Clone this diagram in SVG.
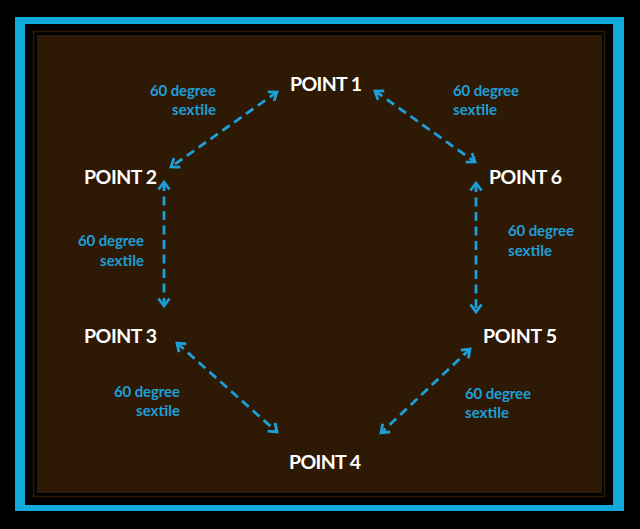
<svg xmlns="http://www.w3.org/2000/svg" width="640" height="529" viewBox="0 0 640 529">
<defs>
<style>
.pt{font-family:"Lato","Liberation Sans",sans-serif;font-weight:bold;font-size:19.5px;fill:#ffffff;text-anchor:middle}
.lb{font-family:"Lato","Liberation Sans",sans-serif;font-weight:bold;font-size:15px;fill:#1d9fd8}
.r{text-anchor:end}
.c{fill:none;stroke:#1d9fd8;stroke-width:2.8;stroke-dasharray:9 5.5}
</style>
<marker id="ah" viewBox="0 0 14 14" refX="11" refY="7" markerWidth="14" markerHeight="14" markerUnits="userSpaceOnUse" orient="auto-start-reverse">
<path d="M3.5,1.5 L11,7 L3.5,12.5" fill="none" stroke="#1d9fd8" stroke-width="2.8"/>
</marker>
</defs>
<rect x="0" y="0" width="640" height="529" fill="#000"/>
<rect x="15" y="17" width="609" height="494" fill="#12a9dc"/>
<rect x="25" y="24" width="588" height="481" fill="#000"/>
<rect x="33.5" y="31.5" width="571" height="465" fill="none" stroke="#2e1a08" stroke-width="1.5"/>
<rect x="37" y="35" width="565" height="458" fill="#2e1904"/>
<g id="connectors">
<line class="c" x1="277" y1="92" x2="171" y2="167" marker-start="url(#ah)" marker-end="url(#ah)"/>
<line class="c" x1="375" y1="91" x2="475" y2="162" marker-start="url(#ah)" marker-end="url(#ah)"/>
<line class="c" x1="164" y1="182" x2="164" y2="306" marker-start="url(#ah)" marker-end="url(#ah)"/>
<line class="c" x1="476" y1="183" x2="476" y2="312" marker-start="url(#ah)" marker-end="url(#ah)"/>
<line class="c" x1="177" y1="343" x2="277" y2="432" marker-start="url(#ah)" marker-end="url(#ah)"/>
<line class="c" x1="470" y1="349" x2="381" y2="433" marker-start="url(#ah)" marker-end="url(#ah)"/>
</g>
<g id="point1"><text class="pt" x="326" y="91" textLength="72">POINT 1</text></g>
<g id="point2"><text class="pt" x="120.5" y="184" textLength="73">POINT 2</text></g>
<g id="point3"><text class="pt" x="120.5" y="343" textLength="73">POINT 3</text></g>
<g id="point4"><text class="pt" x="325" y="469" textLength="72">POINT 4</text></g>
<g id="point5"><text class="pt" x="520" y="343" textLength="74">POINT 5</text></g>
<g id="point6"><text class="pt" x="525.5" y="184" textLength="73">POINT 6</text></g>
<g id="label12"><text class="lb r" x="216" y="96" textLength="66">60 degree</text><text class="lb r" x="216" y="115" textLength="44">sextile</text></g>
<g id="label16"><text class="lb" x="453" y="96" textLength="66">60 degree</text><text class="lb" x="453" y="115" textLength="44">sextile</text></g>
<g id="label23"><text class="lb r" x="144" y="246" textLength="66">60 degree</text><text class="lb r" x="144" y="266" textLength="44">sextile</text></g>
<g id="label65"><text class="lb" x="508" y="236" textLength="66">60 degree</text><text class="lb" x="508" y="256" textLength="44">sextile</text></g>
<g id="label34"><text class="lb r" x="180" y="397" textLength="66">60 degree</text><text class="lb r" x="180" y="416" textLength="44">sextile</text></g>
<g id="label54"><text class="lb" x="465" y="399" textLength="66">60 degree</text><text class="lb" x="465" y="418" textLength="44">sextile</text></g>
</svg>
